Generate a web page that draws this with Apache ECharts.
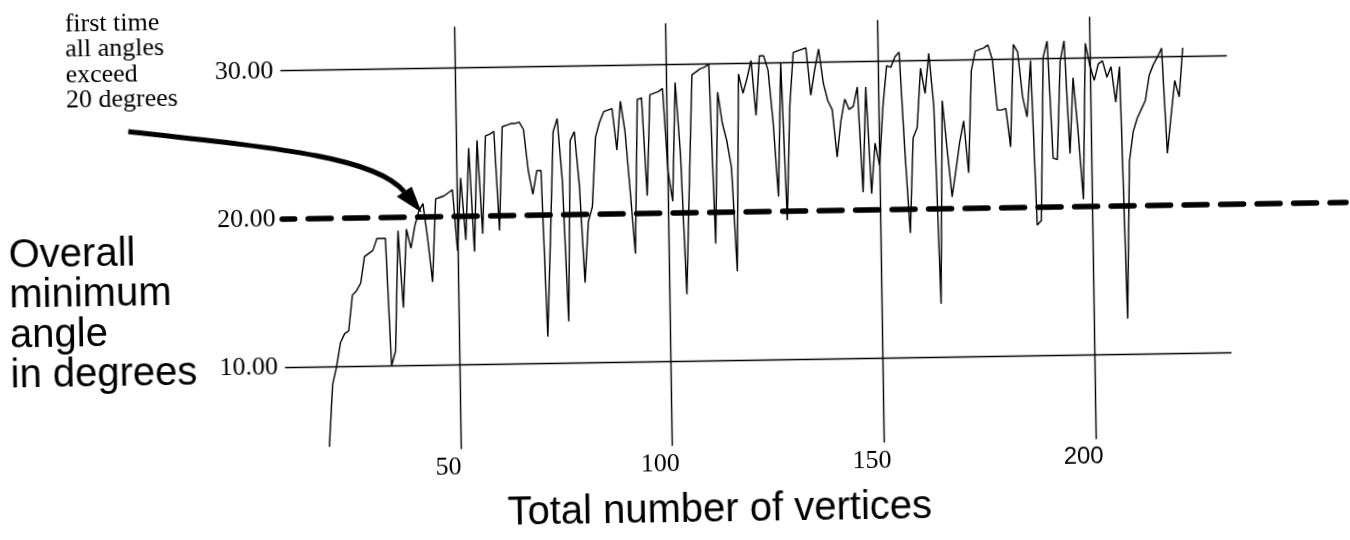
<!DOCTYPE html>
<html>
<head>
<meta charset="utf-8">
<script src="https://cdn.jsdelivr.net/npm/echarts/dist/echarts.min.js"></script>
<style>
html, body { margin: 0; padding: 0; background: #fff; overflow: hidden; width: 1350px; height: 540px; }
/* the reference is a slightly tilted scan */
#chart { width: 1350px; height: 540px; transform: rotate(-0.9deg); transform-origin: 675px 270px; }
</style>
</head>
<body>
<div id="chart"></div>
<script>
// ---- data ----
const vertices = [
  19,20,21,22,23,24,25,26,27,28,29,30,31,32,33,34,35,36,37,38,39,40,
  41,42,43,44,45,46,47,48,49,50,51,52,53,54,55,56,57,58,59,60,
  61,62,63,64,65,66,67,68,69,70,71,72,73,74,75,76,77,78,79,80,
  81,82,83,84,85,86,87,88,89,90,91,92,93,94,95,96,97,98,99,100,
  101,102,103,104,105,106,107,108,109,110,111,112,113,114,115,116,117,118,119,120,
  121,122,123,124,125,126,127,128,129,130,131,132,133,134,135,136,137,138,139,140,
  141,142,143,144,145,146,147,148,149,150,151,152,153,154,155,156,157,158,159,160,
  161,162,163,164,165,166,167,168,169,170,171,172,173,174,175,176,177,178,179,180,
  181,182,183,184,185,186,187,188,189,190,191,192,193,194,195,196,197,198,199,200,
  201,202,203,204,205,206,207,208,209,210,211,212,213,214,215,216,217,218,219,220,
  221,222
];
const minAngle = [
  4.6,8.8,10.0,11.6,12.2,12.4,14.8,15.1,15.6,17.4,17.6,17.8,18.6,18.6,18.6,10.0,11.0,19.1,13.9,19.2,17.9,19.4,
  20.4,20.9,18.5,15.6,21.2,21.3,21.4,21.6,21.8,17.7,22.6,18.4,24.6,17.6,25.1,18.8,25.4,25.5,25.7,19.0,
  26.0,26.1,26.2,26.2,26.3,25.8,23.0,21.4,23.0,23.0,11.8,18.5,25.6,26.5,22.3,12.8,25.0,25.6,22.0,15.4,
  19.5,20.5,25.2,26.2,26.9,27.0,27.1,24.3,27.6,25.5,21.5,17.3,27.7,27.8,21.2,28.0,28.1,28.2,28.4,22.8,
  20.8,28.8,24.0,14.5,22.0,29.3,29.5,29.7,29.8,30.0,17.9,28.1,26.0,24.8,23.0,16.0,29.3,28.0,29.0,30.2,
  26.5,30.5,30.5,29.5,26.0,21.0,30.0,19.4,27.1,30.7,30.8,30.9,31.0,27.8,29.5,30.9,28.6,27.4,26.8,23.6,
  26.0,27.5,26.8,27.0,28.3,21.2,28.3,21.1,24.5,23.0,27.0,29.7,29.6,30.3,30.6,24.0,18.4,24.8,25.5,29.5,
  27.8,30.5,27.0,13.6,27.3,24.0,20.8,22.6,24.5,25.9,22.4,29.3,30.6,30.7,30.8,31.0,30.0,26.6,26.6,26.7,
  24.1,31.0,30.5,27.5,26.1,29.9,18.8,19.1,30.1,31.2,23.3,23.2,29.8,31.2,23.6,28.7,25.0,20.5,31.0,29.5,
  28.5,29.6,29.8,28.7,29.4,27.0,29.4,12.4,23.0,25.0,25.9,26.5,27.1,28.8,29.5,30.0,30.6,23.5,26.0,28.4,
  27.3,30.6
];
const xTickLabels = [50, 100, 150, 200];
const yTickLabels = [10, 20, 30];
const thresholdAngle = 20;
const solidRules = [10, 30];
const ruleSpanX = [8.8, 232.4];
const dashedSpanX = [8.7, 260];
const verticalSpanY = [4.3, 32.8];

// ---- layout ----
const X_ORIGIN = 246.2, PX_PER_X = 4.2767;
const Y_ORIGIN = 509.6, PX_PER_Y = 14.83;
const X_MAX = 260, Y_MAX = 34;

const chart = echarts.init(document.getElementById('chart'), null, { renderer: 'canvas' });

const markData = [];
solidRules.forEach(v => markData.push([{ coord: [ruleSpanX[0], v] }, { coord: [ruleSpanX[1], v] }]));
xTickLabels.forEach(v => markData.push([{ coord: [v, verticalSpanY[0]] }, { coord: [v, verticalSpanY[1]] }]));
markData.push([
  { coord: [dashedSpanX[0], thresholdAngle],
    lineStyle: { color: '#000', width: 5.5, type: [23, 13.5], cap: 'round', dashOffset: 10.5 } },
  { coord: [dashedSpanX[1], thresholdAngle] }
]);

const serif = '"Liberation Serif", "DejaVu Serif", serif';
const sans = '"Liberation Sans", Arial, sans-serif';

chart.setOption({
  animation: false,
  backgroundColor: '#fff',
  grid: {
    left: X_ORIGIN,
    top: Y_ORIGIN - Y_MAX * PX_PER_Y,
    width: X_MAX * PX_PER_X,
    height: Y_MAX * PX_PER_Y,
    containLabel: false
  },
  xAxis: {
    type: 'value', min: 0, max: X_MAX, interval: 50,
    axisLine: { show: false }, axisTick: { show: false }, splitLine: { show: false },
    axisLabel: {
      margin: -58,
      color: '#000', fontFamily: serif, fontSize: 26,
      padding: [0, 24.6, 0, 0],
      showMinLabel: true, showMaxLabel: true,
      formatter: v => xTickLabels.includes(v) ? (v === 200 ? '{s|' + v + '}' : String(v)) : '',
      rich: { s: { fontFamily: sans, fontSize: 24, color: '#000' } }
    }
  },
  yAxis: {
    type: 'value', min: 0, max: Y_MAX, interval: 10,
    axisLine: { show: false }, axisTick: { show: false }, splitLine: { show: false },
    axisLabel: {
      margin: -30.4,
      padding: [0, 0, 11.4, 0],
      color: '#000', fontFamily: serif, fontSize: 26,
      formatter: v => yTickLabels.includes(v) ? v.toFixed(2) : ''
    }
  },
  series: [{
    type: 'line',
    data: vertices.map((x, i) => [x, minAngle[i]]),
    symbol: 'none',
    lineStyle: { color: '#000', width: 1.4 },
    z: 3,
    markLine: {
      silent: true,
      symbol: ['none', 'none'],
      label: { show: false },
      lineStyle: { color: '#000', width: 1.4, type: 'solid' },
      data: markData,
      animation: false
    }
  }],
  graphic: [
    {
      type: 'text', left: 68.7, top: 2,
      style: { text: 'first time\nall angles\nexceed\n20 degrees', font: '26px ' + serif, lineHeight: 25.5, fill: '#000' }
    },
    {
      type: 'text', left: 9, top: 226,
      style: { text: 'Overall\nminimum\nangle\nin degrees', font: '40px ' + sans, lineHeight: 40, fill: '#000' }
    },
    {
      type: 'text', x: 716, y: 510.7,
      style: { text: 'Total number of vertices', font: '40px ' + sans, fill: '#000', align: 'center', verticalAlign: 'middle' }
    },
    {
      type: 'bezierCurve',
      shape: { x1: 130.5, y1: 123.1, cpx1: 280.5, cpy1: 141.8, cpx2: 377, cpy2: 152.5, x2: 405.5, y2: 187.5 },
      style: { stroke: '#000', lineWidth: 5, fill: null }
    },
    {
      type: 'polygon',
      shape: { points: [[422.6, 208.5], [397.9, 192.3], [413, 182.6]] },
      style: { fill: '#000' }
    }
  ]
});
</script>
</body>
</html>
